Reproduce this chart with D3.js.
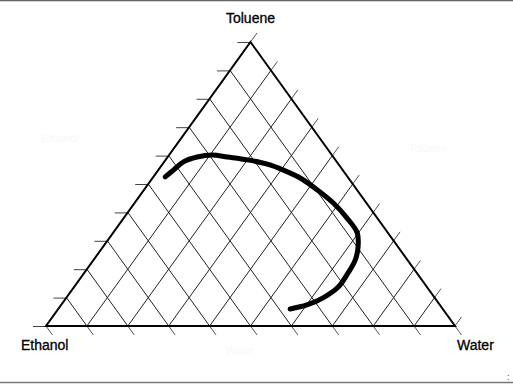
<!DOCTYPE html>
<html lang="en">

<head>
    <meta charset="UTF-8">
    <title>Ternary diagram toluene ethanol water</title>
    <style>
        html,
        body {
            padding: 0;
            margin: 0;
            height: 100%;
            overflow: hidden;
            background: #fff;
        }

        text {
            font-family: 'Liberation Sans', Arial, sans-serif;
        }
    </style>
</head>

<body>

    <script src="https://cdn.jsdelivr.net/npm/d3@7"></script>
    <script>

        const width = 513
        const height = 388

        // grid steps in percent
        const gridSteps = [0, 10, 20, 30, 40, 50, 60, 70, 80, 90, 100]

        // corner labels
        const cornerLabels = ['Toluene', 'Ethanol', 'Water']

        // binodal curve (percent)
        const toluene = [52.5, 54.9, 57.8, 59.5, 60.2, 59.5, 58.5, 57.0, 54.9, 52.1, 47.9,
            43.3, 38.0, 32.8, 27.8, 23.2, 18.7, 13.7, 9.9, 7.4, 6.0]
        const ethanol = [44.6, 41.4, 37.5, 33.3, 29.2, 25.9, 21.5, 17.4, 14.5, 11.8, 9.7,
            8.1, 7.4, 7.5, 9.8, 12.8, 16.8, 21.7, 27.3, 32.5, 37.3]
        const water = [2.9, 3.7, 4.7, 7.2, 10.6, 14.6, 20.0, 25.6, 30.6, 36.1, 42.4,
            48.6, 54.6, 59.7, 62.4, 64.0, 64.5, 64.6, 62.8, 60.1, 56.7]

        const svg = d3.select('body')
            .append('svg')
            .attr('width', width)
            .attr('height', height)

        // frame lines of the original picture
        svg.append('line')
            .attr('x1', 0).attr('y1', 0.5).attr('x2', width).attr('y2', 0.5)
            .attr('stroke', '#666').attr('stroke-width', 1.5)
        svg.append('line')
            .attr('x1', 0).attr('y1', 382.5).attr('x2', width).attr('y2', 382.5)
            .attr('stroke', '#777').attr('stroke-width', 1.5)
        svg.append('text')
            .attr('x', 507).attr('y', 380)
            .attr('font-size', 9)
            .attr('fill', '#333')
            .text(':')

        // x is water + toluene/2, y is toluene
        const x = d3.scaleLinear()
            .domain([0, 100])
            .range([46, 455])

        const y = d3.scaleLinear()
            .domain([0, 100])
            .range([326, 42])

        const px = (t, w) => [x(w + t / 2), y(t)]

        const g = svg.append('g')

        // grid lines parallel to right edge (from left edge to base)
        const inner = gridSteps.slice(1, -1)
        g.selectAll('.gridA')
            .data(inner)
            .enter()
            .append('line')
            .attr('class', 'gridA')
            .attr('stroke', '#222')
            .attr('stroke-width', 1)
            .attr('x1', (d) => px(d, 0)[0])
            .attr('y1', (d) => px(d, 0)[1])
            .attr('x2', (d) => px(0, d)[0])
            .attr('y2', (d) => px(0, d)[1])

        // grid lines parallel to left edge (from base to right edge)
        g.selectAll('.gridB')
            .data(inner)
            .enter()
            .append('line')
            .attr('class', 'gridB')
            .attr('stroke', '#222')
            .attr('stroke-width', 1)
            .attr('x1', (d) => px(0, d)[0])
            .attr('y1', (d) => px(0, d)[1])
            .attr('x2', (d) => px(100 - d, d)[0])
            .attr('y2', (d) => px(100 - d, d)[1])

        // tick directions
        const apex = px(100, 0), cornerL = px(0, 0), cornerR = px(0, 100)
        const len = Math.hypot(cornerR[0] - apex[0], cornerR[1] - apex[1])
        const dirDown = [(cornerR[0] - apex[0]) / len, (cornerR[1] - apex[1]) / len]
        const dirUp = [(apex[0] - cornerL[0]) / len, (apex[1] - cornerL[1]) / len]
        const tl = 11

        // left edge: horizontal ticks
        g.selectAll('.tickL')
            .data(gridSteps)
            .enter()
            .append('line')
            .attr('class', 'tickL')
            .attr('stroke', '#444')
            .attr('x1', (d) => px(d, 0)[0])
            .attr('y1', (d) => px(d, 0)[1] + 0.5)
            .attr('x2', (d) => px(d, 0)[0] - 13)
            .attr('y2', (d) => px(d, 0)[1] + 0.5)

        // base: ticks going down-right
        g.selectAll('.tickB')
            .data(gridSteps)
            .enter()
            .append('line')
            .attr('class', 'tickB')
            .attr('stroke', '#555')
            .attr('x1', (d) => px(0, d)[0])
            .attr('y1', (d) => px(0, d)[1])
            .attr('x2', (d) => px(0, d)[0] + dirDown[0] * tl)
            .attr('y2', (d) => px(0, d)[1] + dirDown[1] * tl)

        // right edge: ticks going up-right
        g.selectAll('.tickR')
            .data(gridSteps)
            .enter()
            .append('line')
            .attr('class', 'tickR')
            .attr('stroke', '#555')
            .attr('x1', (d) => px(100 - d, d)[0])
            .attr('y1', (d) => px(100 - d, d)[1])
            .attr('x2', (d) => px(100 - d, d)[0] + dirUp[0] * tl)
            .attr('y2', (d) => px(100 - d, d)[1] + dirUp[1] * tl)

        // triangle outline
        g.append('path')
            .attr('d', d3.line()([apex, cornerR, cornerL]) + 'Z')
            .attr('fill', 'none')
            .attr('stroke', '#000')
            .attr('stroke-width', 2)
            .attr('stroke-linejoin', 'miter')

        // binodal curve
        const curve = toluene.map((t, i) => ({ t: t, e: ethanol[i], w: water[i] }))
        g.append('path')
            .datum(curve)
            .attr('fill', 'none')
            .attr('stroke', '#000')
            .attr('stroke-width', 5)
            .attr('stroke-linecap', 'round')
            .attr('stroke-linejoin', 'round')
            .attr('d', d3.line()
                .x((d) => px(d.t, d.w)[0])
                .y((d) => px(d.t, d.w)[1])
                .curve(d3.curveCatmullRom))

        // corner labels
        svg.append('text')
            .attr('x', apex[0]).attr('y', 23)
            .attr('text-anchor', 'middle')
            .attr('font-size', 14)
            .attr('stroke', '#000').attr('stroke-width', 0.3)
            .text(cornerLabels[0])
        svg.append('text')
            .attr('x', 21).attr('y', 350)
            .attr('font-size', 14)
            .attr('stroke', '#000').attr('stroke-width', 0.3)
            .text(cornerLabels[1])
        svg.append('text')
            .attr('x', 457).attr('y', 350)
            .attr('font-size', 14)
            .attr('stroke', '#000').attr('stroke-width', 0.3)
            .text(cornerLabels[2])

        // faint leftover axis titles
        const ghost = [
            { x: 60, y: 142, s: cornerLabels[1] },
            { x: 428, y: 152, s: cornerLabels[0] },
            { x: 240, y: 354, s: cornerLabels[2] }
        ]
        svg.selectAll('.ghost')
            .data(ghost)
            .enter()
            .append('text')
            .attr('class', 'ghost')
            .attr('x', (d) => d.x).attr('y', (d) => d.y)
            .attr('text-anchor', 'middle')
            .attr('font-size', 11)
            .attr('fill', '#f7f7f7')
            .text((d) => d.s)

    </script>
</body>

</html>
